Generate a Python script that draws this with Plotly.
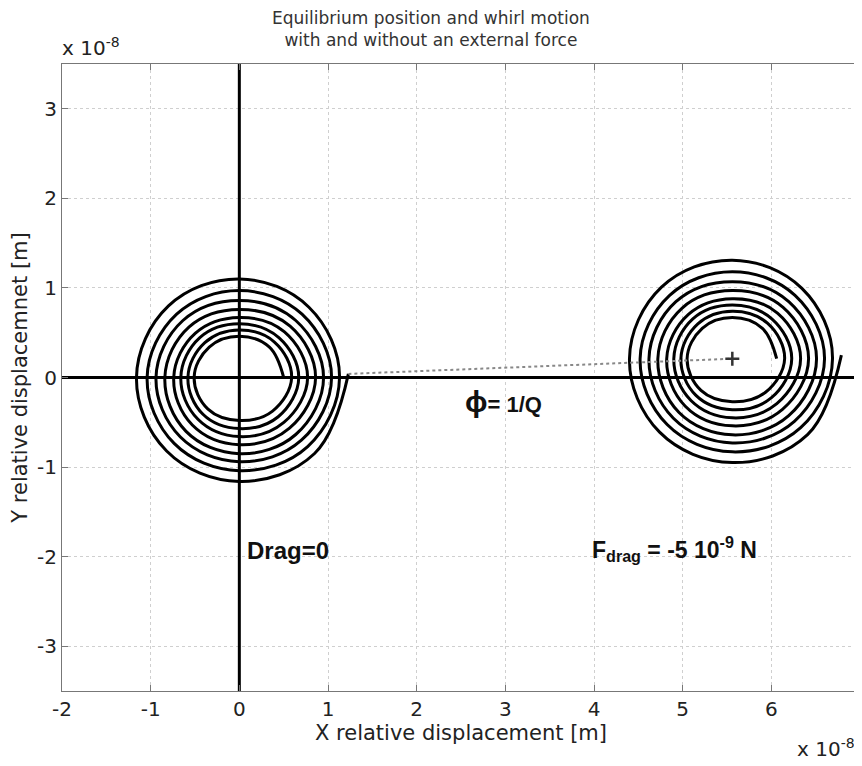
import plotly.graph_objects as go

# ---------------- data (units of 1e-8 m) ----------------
x_ticks = [-2, -1, 0, 1, 2, 3, 4, 5, 6, 7]
y_ticks = [-3, -2, -1, 0, 1, 2, 3]
x_range = [-2, 7]
y_range = [-3.5, 3.5]

# spiral radius read every 45 degrees (counter-clockwise, starting at the
# inner end on the right side), one value per turn for each direction
r_E = [0.50, 0.59, 0.67, 0.77, 0.86, 0.95, 1.04, 1.13, 1.23]
r_NE = [0.48, 0.56, 0.63, 0.72, 0.81, 0.90, 1.00, 1.11]
r_N = [0.46, 0.53, 0.60, 0.67, 0.76, 0.86, 0.97, 1.10]
r_NW = [0.48, 0.55, 0.63, 0.70, 0.80, 0.90, 1.00, 1.13]
r_W = [0.51, 0.58, 0.66, 0.74, 0.84, 0.94, 1.04, 1.16]
r_SW = [0.50, 0.58, 0.66, 0.75, 0.85, 0.94, 1.04, 1.16]
r_S = [0.48, 0.57, 0.66, 0.75, 0.85, 0.94, 1.04, 1.16]
r_SE = [0.53, 0.62, 0.71, 0.80, 0.90, 0.99, 1.09, 1.20]
end_lift = 0.04  # the outer end finishes just above the centre line

center_no_drag = [0.0, 0.0]
center_drag = [5.56, 0.21]

# ---------------- build spiral path ----------------
D = 0.70710678
directions = [(1, 0), (D, D), (0, 1), (-D, D), (-1, 0), (-D, -D), (0, -1), (D, -D)]
radii = [r_E, r_NE, r_N, r_NW, r_W, r_SW, r_S, r_SE]


def spiral(cx, cy):
    xs, ys = [], []
    for i in range(len(r_N)):
        for (ux, uy), rr in zip(directions, radii):
            xs.append(cx + ux * rr[i])
            ys.append(cy + uy * rr[i])
    xs.append(cx + r_E[-1])
    ys.append(cy + end_lift)
    return xs, ys


sx0, sy0 = spiral(*center_no_drag)
sx1, sy1 = spiral(*center_drag)

fig = go.Figure()

# reference axes through origin
fig.add_trace(go.Scatter(x=[0, 0], y=y_range, mode="lines",
                         line=dict(color="#000", width=3), hoverinfo="skip"))
fig.add_trace(go.Scatter(x=x_range, y=[0, 0], mode="lines",
                         line=dict(color="#000", width=3), hoverinfo="skip"))

# spirals
for sx, sy in [(sx0, sy0), (sx1, sy1)]:
    fig.add_trace(go.Scatter(x=sx, y=sy, mode="lines",
                             line=dict(color="#000", width=3, shape="spline", smoothing=1.1),
                             hoverinfo="skip"))

# dotted phase line from free spiral end to new equilibrium
fig.add_trace(go.Scatter(x=[sx0[-1], center_drag[0]], y=[sy0[-1], center_drag[1]],
                         mode="lines", line=dict(color="#888", width=2, dash="dot"),
                         hoverinfo="skip"))
# equilibrium marker
fig.add_trace(go.Scatter(x=[center_drag[0]], y=[center_drag[1]], mode="markers",
                         marker=dict(symbol="cross-thin", size=10,
                                     line=dict(color="#333", width=2.5)),
                         hoverinfo="skip"))

bold = "Liberation Sans, Arial, sans-serif"
reg = "DejaVu Sans, sans-serif"
fig.add_annotation(x=0.06, y=-1.93, text="<b>Drag=0</b>", showarrow=False,
                   xanchor="left", yanchor="middle", font=dict(family=bold, size=24, color="#111"))
fig.add_annotation(x=3.95, y=-1.91,
                   text="<b>F<sub>drag</sub> = -5 10<sup>-9</sup> N</b>", showarrow=False,
                   xanchor="left", yanchor="middle", font=dict(family=bold, size=23, color="#111"))
fig.add_annotation(x=2.52, y=-0.27,
                   text="<b><span style='font-size:30px'>ϕ</span>= 1/Q</b>", showarrow=False,
                   xanchor="left", yanchor="middle", font=dict(family=bold, size=22, color="#111"))

# title
fig.add_annotation(xref="paper", yref="paper", x=0.462, y=1, xanchor="center", yanchor="bottom",
                   yshift=12, showarrow=False,
                   text="Equilibrium position and whirl motion<br>with and without an external force",
                   font=dict(family=reg, size=17, color="#333"))

# exponent labels
fig.add_annotation(xref="paper", yref="paper", x=0, y=1, xanchor="left", yanchor="bottom",
                   yshift=2, xshift=-2, text="x 10<sup>-8</sup>", showarrow=False,
                   font=dict(family=reg, size=20, color="#222"))
fig.add_annotation(xref="paper", yref="paper", x=1, y=0, xanchor="right", yanchor="top",
                   yshift=-42, xshift=-3, text="x 10<sup>-8</sup>", showarrow=False,
                   font=dict(family=reg, size=20, color="#222"))

axis_common = dict(showgrid=True, gridcolor="#cfcfcf", griddash="dot", gridwidth=1,
                   zeroline=False, showline=True, linecolor="#777", linewidth=1.2,
                   mirror="allticks", ticks="inside", ticklen=6, tickcolor="#777",
                   automargin=False, ticklabeloverflow="allow",
                   tickfont=dict(family=reg, size=20, color="#222"))

fig.update_layout(
    width=854, height=758,
    margin=dict(l=54, r=2, t=56, b=75),
    paper_bgcolor="white", plot_bgcolor="white",
    showlegend=False,
    xaxis=dict(range=x_range, tickvals=x_ticks, ticktext=[str(v) for v in x_ticks],
               title=dict(text="X relative displacement [m]", standoff=4,
                          font=dict(family=reg, size=21, color="#222")),
               **axis_common),
    yaxis=dict(range=y_range, tickvals=y_ticks, ticktext=[str(v) for v in y_ticks],
               title=dict(text="Y relative displacemnet [m]", standoff=8,
                          font=dict(family=reg, size=21, color="#222")),
               **axis_common),
)

fig.write_html("out.html")
